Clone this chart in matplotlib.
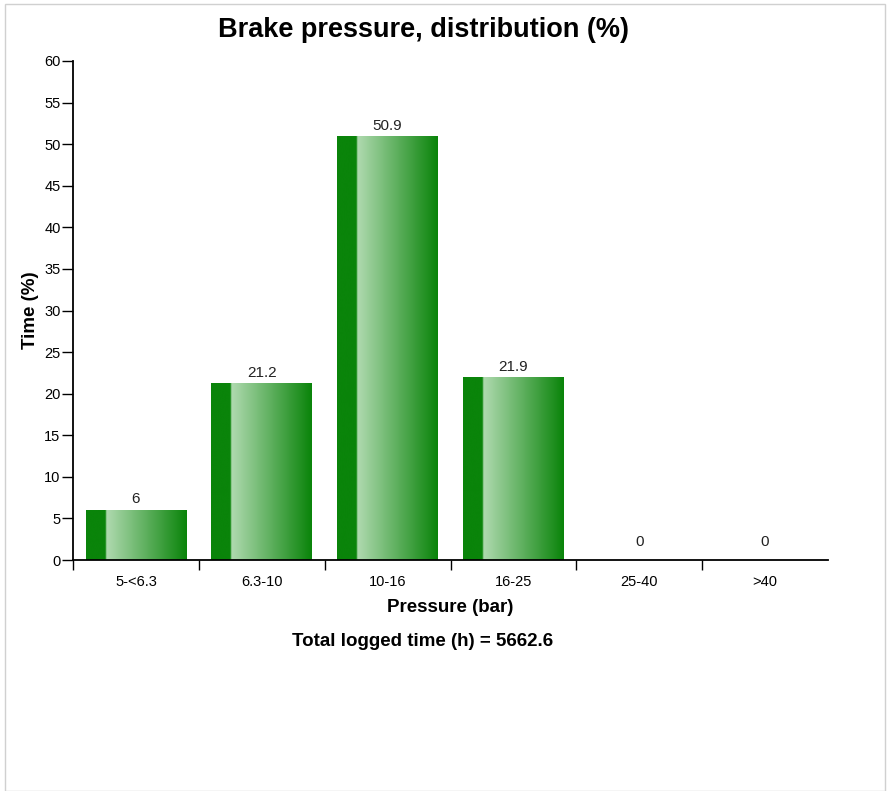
import numpy as np
import matplotlib.pyplot as plt
from matplotlib.colors import LinearSegmentedColormap
from matplotlib.patches import Rectangle

categories = ['5-<6.3', '6.3-10', '10-16', '16-25', '25-40', '>40']
values = [6, 21.2, 50.9, 21.9, 0, 0]
value_labels = ['6', '21.2', '50.9', '21.9', '0', '0']
total_time = '5662.6'

plt.rcParams['font.family'] = ['Liberation Sans', 'DejaVu Sans']

fig = plt.figure(figsize=(8.88, 7.91), dpi=100)
ax = fig.add_axes([73 / 888, 1 - 560 / 791, (828 - 73) / 888, (560 - 61) / 791])

# frame around the whole picture
fig.patches.append(Rectangle((5 / 888, 0), 880 / 888, 1 - 4 / 791, transform=fig.transFigure,
                             fill=False, edgecolor='#d0d0d0', lw=1))

cmap = LinearSegmentedColormap.from_list('bar', [
    (0.0, '#0a840a'), (0.195, '#0a840a'), (0.2, '#b0dab0'), (1.0, '#0a840a')])
grad = np.linspace(0, 1, 256).reshape(1, -1)

x = np.arange(len(categories))
width = 0.8
bars = ax.bar(x, values, width=width, color='none', edgecolor='none')
for b, lab in zip(bars, value_labels):
    h = b.get_height()
    if h > 0:
        ax.imshow(grad, cmap=cmap, aspect='auto', interpolation='bicubic',
                  extent=[b.get_x(), b.get_x() + b.get_width(), 0, h], zorder=2)
    ax.annotate(lab, (b.get_x() + b.get_width() / 2, h), xytext=(0, 3 if h > 0 else 8),
                textcoords='offset points', ha='center', va='bottom',
                fontsize=11, color='#222222')

ax.set_xlim(-0.5, len(categories) - 0.5)
ax.set_ylim(0, 60)
ax.set_yticks(np.arange(0, 61, 5))
ax.set_xticks(x)
ax.set_xticklabels(categories)
ax.set_xticks(np.arange(-0.5, len(categories) - 1, 1), minor=True)
ax.tick_params(axis='x', which='major', length=0, pad=11, labelsize=10.5)
ax.tick_params(axis='x', which='minor', length=7, width=1)
ax.tick_params(axis='y', length=8, width=1, labelsize=10.5, pad=1)
for s in ['top', 'right']:
    ax.spines[s].set_visible(False)
for s in ['left', 'bottom']:
    ax.spines[s].set_linewidth(1.3)

ax.set_xlabel('Pressure (bar)', fontsize=13.5, fontweight='bold', labelpad=7)
ax.set_ylabel('Time (%)', fontsize=13.5, fontweight='bold', labelpad=4)

fig.text(423 / 888, 1 - 30 / 791, 'Brake pressure, distribution (%)', ha='center', va='center',
         fontsize=19.5, fontweight='bold')
fig.text(423 / 888, 1 - 641 / 791, 'Total logged time (h) = ' + total_time, ha='center', va='center',
         fontsize=13.5, fontweight='bold')

fig.savefig('out.png', dpi=100)
